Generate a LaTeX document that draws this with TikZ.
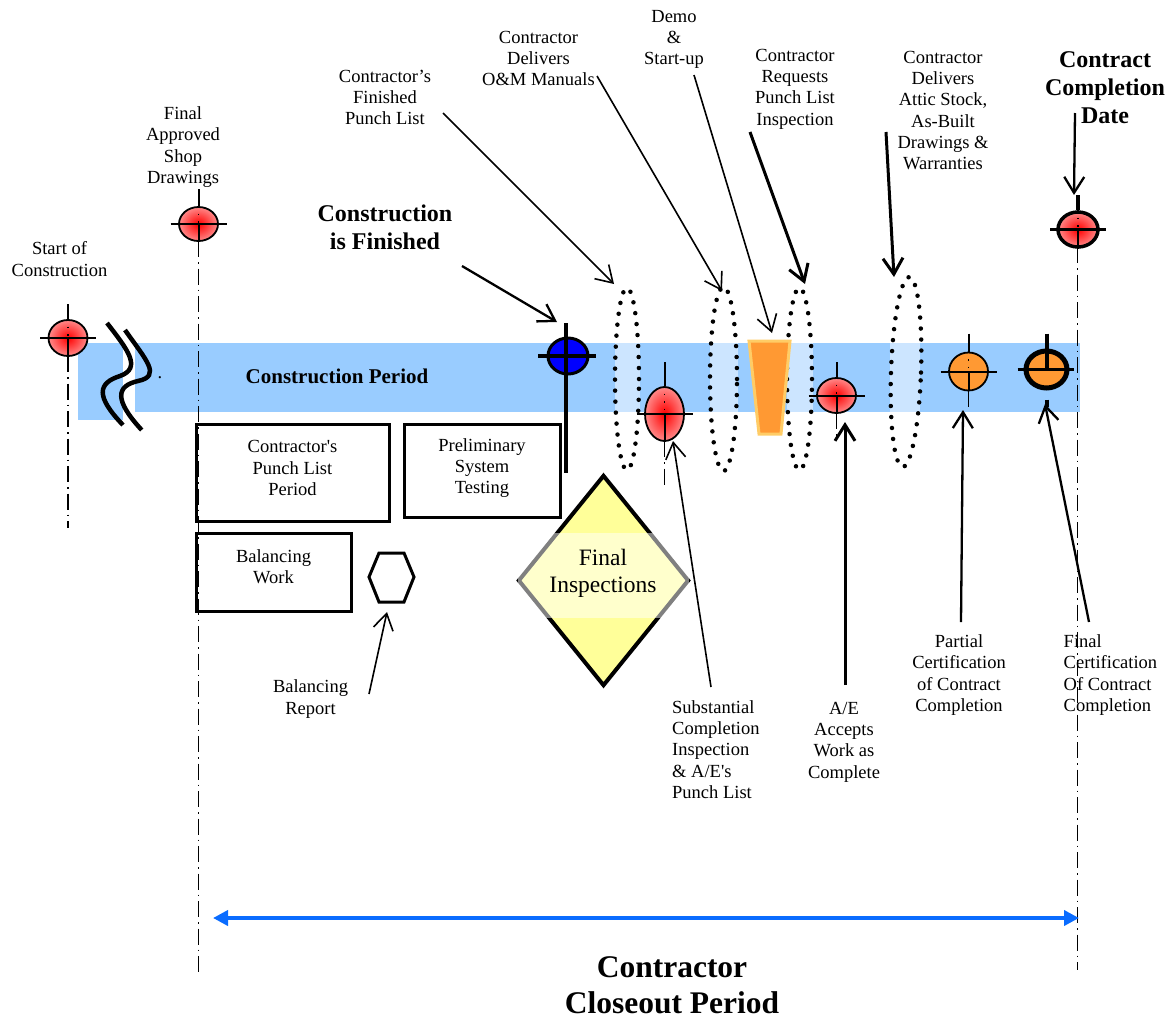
\documentclass[tikz,border=0pt]{standalone}
\usepackage{fontspec}
\setmainfont{Liberation Serif}[Ligatures=TeXOff]
\usetikzlibrary{shapes.geometric,arrows.meta}
\definecolor{bandblue}{HTML}{99CCFF}
\definecolor{paleblue}{HTML}{CCE5FF}
\definecolor{mkorange}{HTML}{FF9933}
\definecolor{trapedge}{HTML}{FFCC66}
\definecolor{mkblue}{HTML}{0000FF}
\definecolor{spanblue}{HTML}{0A6CFF}
\definecolor{mkpink}{HTML}{FF8A8A}
\definecolor{diamyellow}{HTML}{FFFF99}
\newcommand\mkcross[3][xh]{%
  \draw[#1] ([xshift=-28pt]#2.center) -- ([xshift=28pt]#2.center);
  \draw[#1] ([yshift=#3]#2.north) -- (#2.north);
  \draw[xh] (#2.center) -- (#2.south);
  \draw[dotsm] (#2.north) -- (#2.center);
}
\begin{document}
\begin{tikzpicture}[x=1pt,y=-1pt,
  txt/.style={align=center,font=\fontsize{18.5}{21.3}\selectfont,inner sep=0pt},
  txtl/.style={align=left,font=\fontsize{18.5}{21.3}\selectfont,inner sep=0pt},
  btxt/.style={align=center,font=\fontsize{24}{28}\selectfont\bfseries,inner sep=0pt},
  mk/.style={ellipse,draw,line width=1.8pt,inner sep=0pt},
  redmk/.style={mk,inner color=red,outer color=mkpink},
  orgmk/.style={mk,fill=mkorange},
  boxst/.style={draw,line width=3pt,inner sep=0pt},
  xh/.style={line width=2pt},
  xhthick/.style={line width=3.5pt},
  dotsm/.style={line width=1.2pt,dash pattern=on 1.5pt off 6pt},
  dd/.style={line width=1.5pt,dash pattern=on 16pt off 5pt on 1.5pt off 5pt},
  dotov/.style={ellipse,draw,line width=4.5pt,line cap=round,dash pattern=on 0pt off 11pt,inner sep=0pt},
  arr/.style={-{Straight Barb[length=16pt,width=20pt]},line width=1.6pt},
  arrmid/.style={-{Straight Barb[length=16pt,width=20pt]},line width=2.3pt},
  arrthick/.style={-{Straight Barb[length=16pt,width=20pt]},line width=3pt},
  brk/.style={line width=4.5pt,line cap=butt},
]
\useasboundingbox (0,0) rectangle (1167,1018);

% ---- band
\fill[bandblue] (78,343) rectangle (123,420);
\fill[bandblue] (135,343) rectangle (1080,412);
\fill[paleblue] (615,343) rectangle (640,412);
\fill[paleblue] (710,343) rectangle (738,412);
\fill[paleblue] (787,343) rectangle (813,412);
\fill[paleblue] (890,343) rectangle (920,412);

% ---- break symbol
\draw[brk] (107,323) .. controls (128,350) and (142,368) .. (120,376) .. controls (98,383) and (95,396) .. (123,425);
\draw[brk] (125,330) .. controls (146,360) and (162,376) .. (138,381) .. controls (116,386) and (114,400) .. (141.7,430);
\node[txt] (dot) at (160,378) {.};

% ---- dotted ovals
\node[dotov,minimum width=24pt,minimum height=182pt] (ov1) at (627,379) {};
\node[dotov,minimum width=27pt,minimum height=184pt] (ov2) at (723.5,379) {};
\node[dotov,minimum width=25pt,minimum height=182pt] (ov3) at (799.5,379) {};
\node[dotov,minimum width=30pt,minimum height=190pt,rotate=-2] (ov4) at (906,372) {};

% ---- trapezoid
\fill[mkorange,draw=trapedge,line width=3pt] (749,341) -- (790,341) -- (781,434) -- (759,434) -- cycle;
\coordinate (trap) at (770,341);

% ---- markers
\coordinate (m1end) at (68,528);
\coordinate (m2end) at (198.5,975);
\coordinate (m4end) at (664.5,485);
\coordinate (m6end) at (836.5,437);
\coordinate (m7end) at (968.5,410);
\coordinate (m9end) at (1077.5,970);
\draw[dd] (68,356) -- (m1end);
\draw[dd] (198.5,241) -- (m2end);
\draw[dd] (664.5,441) -- (m4end);
\draw[dd] (836.5,413) -- (m6end);
\draw[dd] (968.5,391) -- (m7end);
\draw[dd] (1077.5,247) -- (m9end);

\node[redmk,minimum width=39pt,minimum height=36pt] (m1) at (68,338) {};
\mkcross{m1}{15pt}
\node[redmk,minimum width=39pt,minimum height=34pt] (m2) at (198.5,224) {};
\mkcross{m2}{17pt}

\node[mk,fill=mkblue,line width=3pt,minimum width=40pt,minimum height=36pt] (m3) at (568,356) {};
\coordinate (m3top) at (566,323);
\coordinate (m3bot) at (566,473);
\draw[line width=4pt] (m3top) -- (m3bot);
\draw[line width=4pt] ([xshift=-30pt]m3.center) -- ([xshift=28pt]m3.center);

\node[redmk,minimum width=39pt,minimum height=54pt] (m4) at (664.5,414) {};
\mkcross{m4}{24pt}
\node[redmk,minimum width=39pt,minimum height=35pt] (m6) at (836.5,395.5) {};
\mkcross{m6}{15pt}
\node[orgmk,minimum width=39pt,minimum height=38pt] (m7) at (968.5,371.5) {};
\mkcross{m7}{18pt}
\node[orgmk,line width=5pt,minimum width=41pt,minimum height=37pt] (m8) at (1046.5,369.5) {};
\draw[xh,line width=3pt] ([xshift=-29pt]m8.center) -- ([xshift=27pt]m8.center);
\draw[line width=4pt] ([yshift=15pt]m8.north) -- (m8.center);
\draw[line width=4pt] ([yshift=-9pt]m8.south) -- ([yshift=-16pt]m8.south);
\node[redmk,line width=3.5pt,minimum width=40pt,minimum height=35pt] (m9) at (1078,229.5) {};
\mkcross[xhthick]{m9}{15pt}

% ---- boxes
\node[boxst,minimum width=193pt,minimum height=97pt] (b1) at (292.5,472.5) {};
\node[txt] (b1t) at (292.5,468) {Contractor's\\Punch List\\Period};
\node[boxst,minimum width=156pt,minimum height=93pt] (b2) at (482,470.5) {};
\node[txt] (b2t) at (482,468) {Preliminary\\System\\Testing};
\node[boxst,minimum width=155pt,minimum height=78pt] (b3) at (273.5,572) {};
\node[txt] (b3t) at (273.5,567) {Balancing\\Work};

% ---- hexagon
\draw[line width=3pt] (369,577) -- (379,553) -- (404,553) -- (414,577) -- (404,602) -- (379,602) -- cycle;
\coordinate (hex) at (391.5,577);

% ---- diamond
\node[diamond,draw,line width=4pt,fill=diamyellow,minimum width=171pt,minimum height=211pt,inner sep=0pt] (fi) at (603.5,580.5) {};
\fill[white,opacity=0.5] (518,533) rectangle (689,618);
\node[align=center,inner sep=0pt,font=\fontsize{23.5}{27}\selectfont] (fit) at (603,573) {Final\\Inspections};

% ---- arrows
\coordinate (a1s) at (443,113);  \coordinate (a1e) at (614,284);
\coordinate (a2s) at (597,76);   \coordinate (a2e) at (722,291);
\coordinate (a3s) at (694,75);   \coordinate (a3e) at (772,333);
\coordinate (a4s) at (750,132);  \coordinate (a4e) at (805,284);
\coordinate (a5s) at (886,132);  \coordinate (a5e) at (894,277);
\coordinate (a6s) at (1075,113); \coordinate (a6e) at (1074,195);
\coordinate (a7s) at (462,266);  \coordinate (a7e) at (557,322);
\coordinate (a8s) at (369,694);  \coordinate (a8e) at (387,612);
\coordinate (a9s) at (711,687);  \coordinate (a9e) at (673,441);
\coordinate (a10s) at (845,685); \coordinate (a10e) at (845,422);
\coordinate (a11s) at (961,622); \coordinate (a11e) at (963,410);
\coordinate (a12s) at (1089,622);\coordinate (a12e) at (1045,404);
\draw[arr] (a1s) -- (a1e);
\draw[arr] (a2s) -- (a2e);
\draw[arr] (a3s) -- (a3e);
\draw[arrthick] (a4s) -- (a4e);
\draw[arrthick] (a5s) -- (a5e);
\draw[arrmid] (a6s) -- (a6e);
\draw[arrmid] (a7s) -- (a7e);
\draw[arr] (a8s) -- (a8e);
\draw[arr] (a9s) -- (a9e);
\draw[arrthick] (a10s) -- (a10e);
\draw[arrmid] (a11s) -- (a11e);
\draw[arrmid] (a12s) -- (a12e);

\coordinate (spanL) at (213,918);
\coordinate (spanR) at (1079,918);
\draw[spanblue,line width=4pt,{Triangle[length=15pt,width=15pt]}-{Triangle[length=15pt,width=15pt]}] (spanL) -- (spanR);

% ---- texts
\node[txt] (t1) at (59.5,259) {Start of\\Construction};
\node[txt] (t2) at (183,147) {Final\\Approved\\Shop\\Drawings};
\node[txt] (t3) at (385,97.5) {Contractor’s\\Finished\\Punch List};
\node[txt] (t4) at (538.5,58.5) {Contractor\\Delivers\\O\&M Manuals};
\node[txt] (t5) at (674,39.5) {Demo\\\&\\Start-up};
\node[txt] (t6) at (795,89) {Contractor\\Requests\\Punch List\\Inspection};
\node[txt] (t7) at (943,110.5) {Contractor\\Delivers\\Attic Stock,\\As-Built\\Drawings \&\\Warranties};
\node[btxt] (t8) at (1105,88) {Contract\\Completion\\Date};
\node[btxt] (t9) at (385,227.5) {Construction\\is Finished};
\node[inner sep=0pt,font=\fontsize{21}{24}\selectfont\bfseries] (t10) at (337,376) {Construction Period};
\node[txt] (t12) at (310.5,699) {Balancing\\Report};
\node[txtl,anchor=west] (t13) at (672,749.5) {Substantial\\Completion\\Inspection\\\& A/E's\\Punch List};
\node[txt] (t14) at (844,742) {A/E\\Accepts\\Work as\\Complete};
\node[txt] (t15) at (959,675) {Partial\\Certification\\of Contract\\Completion};
\node[txtl,anchor=west] (t16) at (1063.5,675) {Final\\Certification\\Of Contract\\Completion};
\node[align=center,inner sep=0pt,font=\fontsize{31.5}{36}\selectfont\bfseries] (t17) at (672,985) {Contractor\\Closeout Period};
\end{tikzpicture}
\end{document}
